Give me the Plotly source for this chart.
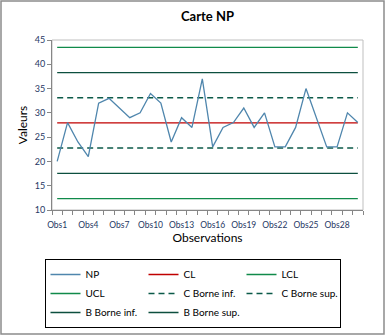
import plotly.graph_objects as go

categories = [f"Obs{i}" for i in range(1, 31)]
np_values = [20, 28, 24, 21, 32, 33, 31, 29, 30, 34,
             32, 24, 29, 27, 37, 23, 27, 28, 31, 27,
             30, 23, 23, 27, 35, 29, 23, 23, 30, 28]
cl_value = 27.93
lcl_value = 12.35
ucl_value = 43.5
c_inf_value = 22.75
c_sup_value = 33.1
b_inf_value = 17.55
b_sup_value = 38.3
y_ticks = [10, 15, 20, 25, 30, 35, 40, 45]

x_pos = list(range(1, len(categories) + 1))
n = len(categories)

W, H = 385, 335
ml, mr, mt, mb = 52, 22, 40, 125
pw, ph = W - ml - mr, H - mt - mb

fig = go.Figure()
series = [
    ("NP", np_values, "#4f86ad", "solid"),
    ("CL", [cl_value] * n, "#c00000", "solid"),
    ("LCL", [lcl_value] * n, "#108a4a", "solid"),
    ("UCL", [ucl_value] * n, "#108a4a", "solid"),
    ("C Borne inf.", [c_inf_value] * n, "#0b5a48", "dash"),
    ("C Borne sup.", [c_sup_value] * n, "#0b5a48", "dash"),
    ("B Borne inf.", [b_inf_value] * n, "#0d4f3f", "solid"),
    ("B Borne sup.", [b_sup_value] * n, "#0d4f3f", "solid"),
]
for i, (name, vals, col, dash) in enumerate(series):
    fig.add_trace(go.Scatter(
        x=x_pos, y=vals, name=name, mode="lines",
        line=dict(color=col, width=1.5 if dash == "dash" else 1.3,
                  dash="6px,4px" if dash == "dash" else "solid"),
        legendrank=i + 1,
    ))
data = list(fig.data)
fig.data = data[1:] + data[:1]

tick_idx = list(range(0, n, 3))
fig.update_layout(
    width=W, height=H,
    margin=dict(l=ml, r=mr, t=mt, b=mb, autoexpand=False),
    paper_bgcolor="white", plot_bgcolor="white",
    font=dict(family="Lato, Liberation Sans, sans-serif", color="#000000"),
    title=dict(text="<b>Carte NP</b>", x=0.5, xref="paper", xanchor="center",
               y=1 - 16 / H, yanchor="middle", font=dict(size=13, color="#000")),
    xaxis=dict(
        range=[0.5, n + 0.5], showgrid=False, zeroline=False,
        tickvals=[x_pos[i] for i in tick_idx],
        ticktext=[categories[i] for i in tick_idx],
        ticks="", tickfont=dict(size=8.5, color="#1f3864"),
        ticklabelstandoff=7,
        showline=True, linecolor="#868686", linewidth=1,
        minor=dict(ticks="outside", tick0=0.5, dtick=1, ticklen=4, tickcolor="#868686"),
        title=dict(text="Observations", font=dict(size=12), standoff=4),
    ),
    yaxis=dict(
        range=[10, 45], tickvals=y_ticks, showgrid=False, zeroline=False,
        ticks="outside", ticklen=4, tickcolor="#868686",
        tickfont=dict(size=9, color="#1f3864"),
        showline=True, linecolor="#868686", linewidth=1,
        title=dict(text="Valeurs", font=dict(size=12), standoff=4),
    ),
    legend=dict(
        orientation="h", x=-7.5 / pw, xanchor="left",
        y=-(259 - (mt + ph)) / ph, yanchor="top",
        entrywidth=53, entrywidthmode="pixels",
        bordercolor="#000000", borderwidth=1,
        font=dict(size=10), traceorder="normal",
    ),
    shapes=[
        dict(type="rect", xref="paper", yref="paper", x0=0, x1=1, y0=0, y1=1,
             line=dict(color="#bfbfbf", width=1), layer="below"),
        dict(type="rect", xref="paper", yref="paper",
             x0=-(ml - 1) / pw, x1=1 + (mr - 1) / pw,
             y0=-(mb - 1) / ph, y1=1 + (mt - 1) / ph,
             line=dict(color="#8c8c8c", width=1.5)),
    ],
)

fig.write_html("out.html")
